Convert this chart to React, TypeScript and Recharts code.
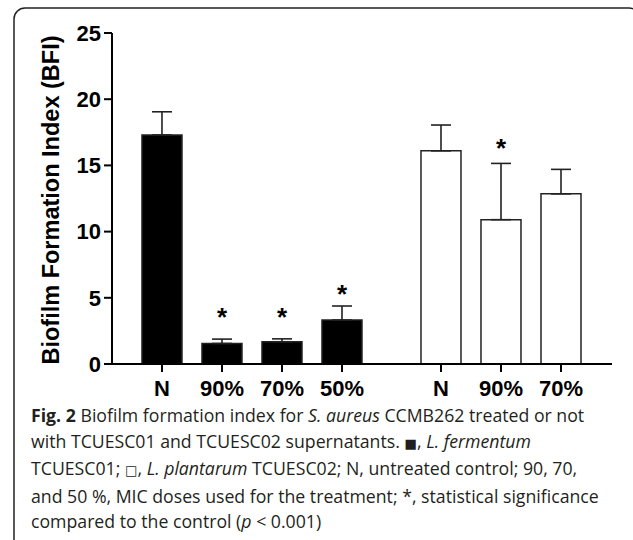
import React from 'react';
import { ComposedChart, Bar, Cell, ErrorBar, Scatter, XAxis, YAxis } from 'recharts';

const doses = ['N', '90%', '70%', '50%'];
const fermentum = [17.3, 1.55, 1.68, 3.32];
const fermentumSd = [1.75, 0.33, 0.22, 1.06];
const fermentumStar = [null, 3.95, 3.95, 5.66];
const plantarum = [16.1, 10.9, 12.85];
const plantarumSd = [1.95, 4.25, 1.85];
const plantarumStar = [null, 16.7, null];
const yTicks = [0, 5, 10, 15, 20, 25];

// second group sits a bit further right than one slot
const groupStart = [0, 4.65];

const rows = [
  ...fermentum.map((v, i) => ({ x: groupStart[0] + i, label: doses[i], bfi: v, err: [0, fermentumSd[i]], fill: '#000' })),
  ...plantarum.map((v, i) => ({ x: groupStart[1] + i, label: doses[i], bfi: v, err: [0, plantarumSd[i]], fill: '#fff' })),
];

const stars = [
  ...fermentumStar.map((s, i) => ({ x: groupStart[0] + i, y: s })),
  ...plantarumStar.map((s, i) => ({ x: groupStart[1] + i, y: s })),
].filter((s) => s.y !== null);

const tickFont = { fontFamily: '"Liberation Sans", Arial, sans-serif', fontWeight: 700, fontSize: 22, fill: '#000' };

const Star = (p: any) => (
  <text x={p.cx} y={p.cy} dy={14} textAnchor="middle" style={{ ...tickFont, fontSize: 26 }}>
    *
  </text>
);

const sq = { fontSize: '0.75em', fontFamily: '"DejaVu Sans", sans-serif' };

export default function App() {
  const labelFor = (x: number) => rows.find((r) => Math.abs(r.x - x) < 0.01)?.label ?? '';

  return (
    <div style={{ position: 'absolute', left: 0, top: 0, width: 633, height: 540, overflow: 'hidden', background: '#fff' }}>
      <svg style={{ position: 'absolute', left: 0, top: 0 }} width={633} height={540}>
        <rect x={14} y={8} width={626} height={560} rx={11} fill="none" stroke="#222" strokeWidth={1.5} />
      </svg>
      <div style={{ position: 'absolute', left: 0, top: 0 }}>
        <ComposedChart width={633} height={410} data={rows} margin={{ top: 33, right: 21, bottom: 6, left: 0 }}>
          <XAxis
            dataKey="x"
            type="number"
            domain={[-0.833, 7.5]}
            ticks={rows.map((r) => r.x)}
            tickFormatter={labelFor}
            allowDataOverflow
            height={40}
            tick={tickFont}
            tickSize={8}
            tickMargin={8}
            axisLine={{ stroke: '#000', strokeWidth: 2 }}
            tickLine={{ stroke: '#000', strokeWidth: 2 }}
          />
          <YAxis
            type="number"
            domain={[0, 25]}
            ticks={yTicks}
            width={112}
            tick={tickFont}
            tickSize={8}
            tickMargin={3}
            axisLine={{ stroke: '#000', strokeWidth: 2 }}
            tickLine={{ stroke: '#000', strokeWidth: 2 }}
          />
          <Bar dataKey="bfi" barSize={40} stroke="#222" strokeWidth={1.5} isAnimationActive={false}>
            {rows.map((r, i) => (
              <Cell key={i} fill={r.fill} />
            ))}
            <ErrorBar dataKey="err" width={10} stroke="#222" strokeWidth={1.6} direction="y" />
          </Bar>
          <Scatter data={stars} dataKey="y" shape={Star} isAnimationActive={false} />
        </ComposedChart>
      </div>
      <svg style={{ position: 'absolute', left: 0, top: 0 }} width={120} height={410}>
        <text
          x={59}
          y={200}
          transform="rotate(-90 59 200)"
          textAnchor="middle"
          style={{ ...tickFont, fontSize: 23.5 }}
        >
          Biofilm Formation Index (BFI)
        </text>
      </svg>
      <div
        style={{
          position: 'absolute', left: 31, top: 403, whiteSpace: 'nowrap',
          fontFamily: '"Open Sans", sans-serif', fontSize: 17.7, lineHeight: '25.6px', color: '#231f20',
        }}
      >
        <b>Fig. 2</b> Biofilm formation index for <i>S. aureus</i> CCMB262 treated or not
        <br />
        with TCUESC01 and TCUESC02 supernatants. <span style={sq}>■</span>, <i>L. fermentum</i>
        <br />
        TCUESC01; <span style={sq}>□</span>, <i>L. plantarum</i> TCUESC02; N, untreated control; 90, 70,
        <br />
        and 50 %, MIC doses used for the treatment; *, statistical significance
        <br />
        compared to the control (<i>p</i> &lt; 0.001)
      </div>
    </div>
  );
}
